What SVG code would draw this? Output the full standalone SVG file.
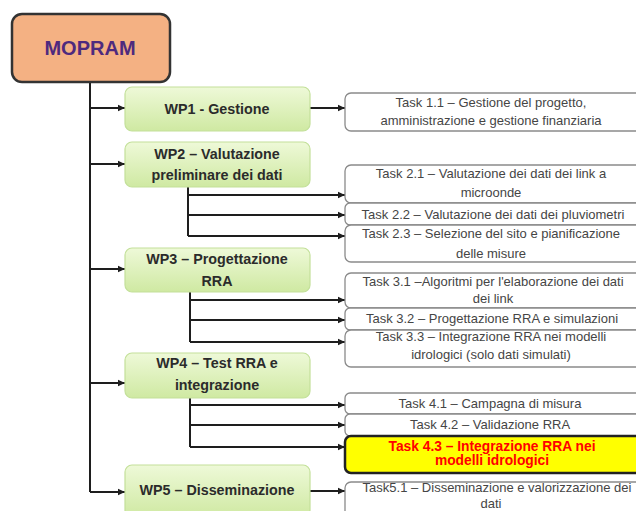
<svg xmlns="http://www.w3.org/2000/svg" width="636" height="511" viewBox="0 0 636 511">
<style>
.wp rect{fill:url(#g);stroke:#c3e09a;stroke-width:1.2}
.wp text{font-family:"Liberation Sans",Arial,sans-serif;font-weight:bold;font-size:14.3px;fill:#2b2b2b;text-anchor:middle}
.task rect{fill:#fff;stroke:#8a8a8a;stroke-width:1.3}
.task text{font-family:"Liberation Sans",Arial,sans-serif;font-size:13px;fill:#454545;text-anchor:middle}
.hl{font-family:"Liberation Sans",Arial,sans-serif;font-weight:bold;font-size:13.8px;fill:#ff0000;text-anchor:middle}
.conn path{fill:none;stroke:#1e1e1e;stroke-width:2}
</style>
<defs>
<linearGradient id="g" x1="0" y1="0" x2="0" y2="1">
<stop offset="0" stop-color="#eef9d8"/>
<stop offset="1" stop-color="#cfe9a2"/>
</linearGradient>
<marker id="ah" markerUnits="userSpaceOnUse" markerWidth="8" markerHeight="8" refX="7" refY="4" orient="auto">
<path d="M0,0.8 L7,4 L0,7.2 Z" fill="#1e1e1e"/>
</marker>
</defs>
<rect width="636" height="511" fill="#fff"/>
<g class="conn">
<path d="M90,82 V492"/>
<path d="M90,108 H125" marker-end="url(#ah)"/>
<path d="M90,164 H125" marker-end="url(#ah)"/>
<path d="M90,269 H125" marker-end="url(#ah)"/>
<path d="M90,383 H125" marker-end="url(#ah)"/>
<path d="M90,492 H125" marker-end="url(#ah)"/>
<path d="M310,108 H345" marker-end="url(#ah)"/>
<path d="M188,187 V236"/>
<path d="M188,195 H345" marker-end="url(#ah)"/>
<path d="M188,215 H345" marker-end="url(#ah)"/>
<path d="M188,236 H345" marker-end="url(#ah)"/>
<path d="M190,292 V342"/>
<path d="M190,300 H345" marker-end="url(#ah)"/>
<path d="M190,320 H345" marker-end="url(#ah)"/>
<path d="M190,342 H345" marker-end="url(#ah)"/>
<path d="M190,398 V447"/>
<path d="M190,405 H345" marker-end="url(#ah)"/>
<path d="M190,425 H345" marker-end="url(#ah)"/>
<path d="M190,447 H345" marker-end="url(#ah)"/>
<path d="M310,491 H345" marker-end="url(#ah)"/>
</g>
<g id="mopram">
<rect x="12" y="14" width="158" height="68" rx="10" fill="#f4b183" stroke="#333" stroke-width="2.5"/>
<text x="90" y="55" font-family="Liberation Sans,Arial,sans-serif" font-weight="bold" font-size="20" fill="#4e2a7e" text-anchor="middle">MOPRAM</text>
</g>
<g id="wp1" class="wp"><rect x="125" y="87" width="185" height="44" rx="7"/><text x="217" y="114">WP1 - Gestione</text></g>
<g id="wp2" class="wp"><rect x="125" y="142" width="185" height="45" rx="7"/><text x="217" y="159">WP2 – Valutazione</text><text x="217" y="180">preliminare dei dati</text></g>
<g id="wp3" class="wp"><rect x="125" y="248" width="185" height="44" rx="7"/><text x="217" y="264">WP3 – Progettazione</text><text x="217" y="286">RRA</text></g>
<g id="wp4" class="wp"><rect x="125" y="353" width="185" height="45" rx="7"/><text x="217" y="368">WP4 – Test RRA e</text><text x="217" y="390">integrazione</text></g>
<g id="wp5" class="wp"><rect x="125" y="465" width="185" height="52" rx="7"/><text x="217" y="495">WP5 – Disseminazione</text></g>
<g id="t11" class="task"><rect x="345" y="93" width="300" height="38" rx="6"/><text x="491" y="107">Task 1.1 – Gestione del progetto,</text><text x="491" y="125">amministrazione e gestione finanziaria</text></g>
<g id="t21" class="task"><rect x="345" y="165" width="300" height="38" rx="6"/><text x="491" y="178">Task 2.1 – Valutazione dei dati dei link a</text><text x="491" y="197">microonde</text></g>
<g id="t22" class="task"><rect x="345" y="203" width="300" height="22" rx="5"/><text x="493" y="219">Task 2.2 – Valutazione dei dati dei pluviometri</text></g>
<g id="t23" class="task"><rect x="345" y="225" width="300" height="37" rx="6"/><text x="491" y="238">Task 2.3 – Selezione del sito e pianificazione</text><text x="491" y="258">delle misure</text></g>
<g id="t31" class="task"><rect x="345" y="273" width="300" height="35" rx="6"/><text x="493" y="286">Task 3.1 –Algoritmi per l'elaborazione dei dati</text><text x="493" y="303">dei link</text></g>
<g id="t32" class="task"><rect x="345" y="308" width="300" height="22" rx="5"/><text x="492" y="323">Task 3.2 – Progettazione RRA e simulazioni</text></g>
<g id="t33" class="task"><rect x="345" y="330" width="300" height="37" rx="6"/><text x="491" y="341">Task 3.3 –  Integrazione RRA nei modelli</text><text x="491" y="359">idrologici (solo dati simulati)</text></g>
<g id="t41" class="task"><rect x="345" y="393" width="300" height="21" rx="5"/><text x="490" y="408">Task 4.1 – Campagna di misura</text></g>
<g id="t42" class="task"><rect x="345" y="414" width="300" height="22" rx="5"/><text x="490" y="429">Task 4.2 – Validazione RRA</text></g>
<g id="t43"><rect x="345" y="436" width="300" height="37" rx="6" fill="#ffff00" stroke="#222" stroke-width="2.5"/><text class="hl" x="492" y="451">Task 4.3 – Integrazione RRA nei</text><text class="hl" x="492" y="465">modelli idrologici</text></g>
<g id="t51" class="task"><rect x="345" y="482" width="300" height="38" rx="6"/><text x="497" y="492">Task5.1 – Disseminazione e valorizzazione dei</text><text x="491" y="508">dati</text></g>
</svg>
